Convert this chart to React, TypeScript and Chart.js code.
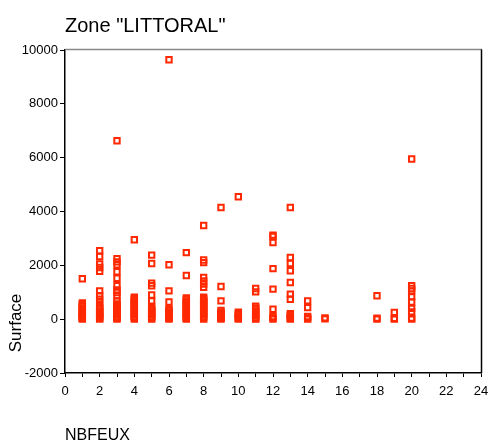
import React, { useEffect, useRef } from "react";
import { Chart, registerables } from "chart.js";

Chart.register(...registerables);

const chartTitle = 'Zone "LITTORAL"';
const xAxisLabel = "NBFEUX";
const yAxisLabel = "Surface";

const xTickMin = 0;
const xTickMax = 24;
const yTickMin = -2000;
const yTickMax = 10000;
const yTickStep = 2000;

// NBFEUX categories and the Surface values observed for each
const nbfeux = [1, 2, 3, 4, 5, 6, 7, 8, 9, 10, 11, 12, 13, 14, 15, 18, 19, 20];

const surf1 = [1500, 600, 540, 480, 420, 360, 300, 250, 200, 150, 100, 60, 30, 0];
const surf2 = [2540, 2330, 2050, 1920, 1780, 1050, 870, 740, 620, 480, 420, 360, 300, 240, 180, 120, 70, 30, 0];
const surf3 = [6630, 2250, 2130, 2020, 1760, 1520, 1240, 1090, 990, 870, 680, 570, 510, 450, 390, 330, 270, 210, 150, 90, 40, 0];
const surf4 = [2950, 820, 760, 700, 640, 580, 520, 460, 400, 340, 280, 220, 160, 100, 50, 0];
const surf5 = [2380, 2070, 1340, 1240, 900, 680, 450, 390, 330, 270, 210, 150, 90, 40, 0];
const surf6 = [9640, 2020, 1050, 640, 380, 320, 260, 200, 140, 80, 30, 0];
const surf7 = [2470, 1620, 790, 730, 670, 610, 550, 490, 430, 370, 310, 250, 190, 130, 70, 30, 0];
const surf8 = [3480, 2200, 2100, 1550, 1420, 1300, 1180, 820, 760, 700, 640, 580, 520, 460, 400, 340, 280, 220, 160, 100, 50, 0];
const surf9 = [4150, 1215, 680, 320, 260, 200, 140, 80, 30, 0];
const surf10 = [4550, 260, 200, 140, 80, 30, 0];
const surf11 = [1140, 1015, 480, 420, 360, 300, 240, 180, 120, 60, 20, 0];
const surf12 = [3120, 3070, 2850, 1880, 1115, 370, 100, 50, 0];
const surf13 = [4150, 2290, 2070, 1800, 1360, 930, 740, 200, 140, 80, 30, 0];
const surf14 = [680, 430, 100, 50, 0];
const surf15 = [50, 10];
const surf18 = [870, 40, 0];
const surf19 = [250, 30, 0];
const surf20 = [5950, 1240, 1140, 1050, 830, 640, 400, 270, 40, 0];

const surfaces = [
  surf1, surf2, surf3, surf4, surf5, surf6, surf7, surf8, surf9,
  surf10, surf11, surf12, surf13, surf14, surf15, surf18, surf19, surf20,
];

const FONT = "'Liberation Sans', Arial, sans-serif";
const RED = "rgb(255,40,0)";

export default function App() {
  const ref = useRef<HTMLCanvasElement | null>(null);

  useEffect(() => {
    const canvas = ref.current;
    if (!canvas) return;
    const points: { x: number; y: number }[] = [];
    nbfeux.forEach((n, i) => {
      surfaces[i].forEach((v) => points.push({ x: n, y: v }));
    });

    const decor = {
      id: "decor",
      afterDraw(chart: any) {
        const { ctx, chartArea } = chart;
        ctx.save();
        ctx.lineWidth = 1.5;
        ctx.strokeStyle = "#888888";
        ctx.beginPath();
        ctx.moveTo(chartArea.left, chartArea.top - 0.5);
        ctx.lineTo(chartArea.right + 1, chartArea.top - 0.5);
        ctx.stroke();
        ctx.strokeStyle = "#000000";
        ctx.lineWidth = 1.5;
        ctx.beginPath();
        ctx.moveTo(chartArea.right + 0.5, chartArea.top - 0.5);
        ctx.lineTo(chartArea.right + 0.5, chartArea.bottom);
        ctx.stroke();

        ctx.fillStyle = "#000000";
        ctx.textAlign = "left";
        ctx.textBaseline = "alphabetic";
        ctx.font = `20px ${FONT}`;
        ctx.fillText(chartTitle, 65, 32);

        ctx.font = `16px ${FONT}`;
        ctx.fillText(xAxisLabel, 65, 440);

        ctx.save();
        ctx.translate(21, 323);
        ctx.rotate(-Math.PI / 2);
        ctx.textAlign = "center";
        ctx.font = `17px ${FONT}`;
        ctx.fillText(yAxisLabel, 0, 0);
        ctx.restore();
        ctx.restore();
      },
    };

    const chart = new Chart(canvas, {
      type: "scatter",
      data: {
        datasets: [
          {
            data: points,
            pointStyle: "rect",
            pointRadius: 3.8,
            pointBorderWidth: 2,
            borderColor: RED,
            backgroundColor: "rgba(0,0,0,0)",
            pointBackgroundColor: "rgba(0,0,0,0)",
            pointBorderColor: RED,
          },
        ],
      },
      options: {
        responsive: false,
        animation: false,
        layout: { padding: { top: 50, left: 0, right: 7, bottom: 38 } },
        plugins: {
          legend: { display: false },
          tooltip: { enabled: false },
          title: { display: false },
        },
        scales: {
          x: {
            type: "linear",
            min: xTickMin,
            max: xTickMax,
            afterFit: (s: any) => {
              s.height = 30;
              s.paddingLeft = 0;
              s.paddingRight = 0;
            },
            border: { color: "#000000", width: 1.5 },
            grid: {
              drawOnChartArea: false,
              drawTicks: true,
              tickLength: 4,
              color: "#000000",
              tickColor: "#000000",
            },
            ticks: {
              stepSize: 1,
              autoSkip: false,
              maxRotation: 0,
              padding: 7,
              color: "#000000",
              font: { family: FONT, size: 13 },
              callback: (v: any) => (Number(v) % 2 === 0 ? String(v) : ""),
            },
          },
          y: {
            type: "linear",
            min: yTickMin,
            max: yTickMax,
            afterFit: (s: any) => {
              s.width = 65;
              s.paddingTop = 0;
              s.paddingBottom = 0;
            },
            border: { color: "#000000", width: 1.5 },
            grid: {
              drawOnChartArea: false,
              drawTicks: true,
              tickLength: 5,
              color: "#000000",
              tickColor: "#000000",
            },
            ticks: {
              stepSize: yTickStep,
              padding: 2,
              color: "#000000",
              font: { family: FONT, size: 13 },
              callback: (v: any) => String(v),
            },
          },
        },
      },
      plugins: [decor],
    } as any);

    return () => chart.destroy();
  }, []);

  return (
    <div style={{ position: "absolute", left: 0, top: 0, width: 488, height: 441, background: "#fff" }}>
      <canvas ref={ref} width={488} height={441} style={{ width: 488, height: 441, display: "block" }} />
    </div>
  );
}
